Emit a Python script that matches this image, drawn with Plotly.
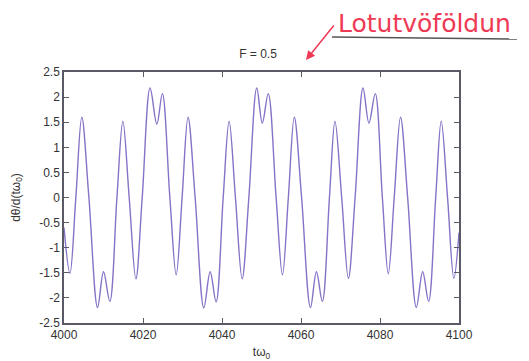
import plotly.graph_objects as go

# Curve: extrema and zero crossings (t*omega0, dtheta/d(t*omega0))
t_vals = [4000.0, 4001.5, 4003.0, 4004.5, 4006.3, 4008.5, 4010.0, 4011.6, 4013.4, 4014.9,
          4016.5, 4018.2, 4019.8, 4021.8, 4023.5, 4024.9, 4026.8, 4028.4, 4029.9, 4031.4,
          4033.2, 4035.4, 4037.0, 4038.5, 4040.3, 4041.8, 4043.4, 4045.1, 4046.8, 4048.8,
          4050.2, 4051.7, 4053.7, 4055.3, 4056.8, 4058.3, 4060.15, 4062.4, 4063.9, 4065.4,
          4067.2, 4068.6, 4070.3, 4072.0, 4073.7, 4075.7, 4077.2, 4078.8, 4080.6, 4082.1,
          4083.6, 4085.2, 4087.0, 4089.2, 4090.8, 4092.3, 4094.1, 4095.5, 4097.1, 4098.7,
          4100.0]
dtheta = [-0.6, -1.51, 0.0, 1.60, 0.0, -2.19, -1.48, -2.07, 0.0, 1.52,
          0.0, -1.62, 0.0, 2.18, 1.46, 2.07, 0.0, -1.54, 0.0, 1.60,
          0.0, -2.20, -1.48, -2.08, 0.0, 1.52, 0.0, -1.62, 0.0, 2.18,
          1.48, 2.07, 0.0, -1.54, 0.0, 1.60, 0.0, -2.19, -1.48, -2.07,
          0.0, 1.52, 0.0, -1.61, 0.0, 2.18, 1.48, 2.07, 0.0, -1.52,
          0.0, 1.60, 0.0, -2.19, -1.48, -2.07, 0.0, 1.52, 0.0, -1.61,
          -0.7]

x_ticks = [4000, 4020, 4040, 4060, 4080, 4100]
y_ticks = [-2.5, -2, -1.5, -1, -0.5, 0, 0.5, 1, 1.5, 2, 2.5]
y_tick_text = ["-2.5", "-2", "-1.5", "-1", "-0.5", "0", "0.5", "1", "1.5", "2", "2.5"]

FONT = "Liberation Sans, Arial, sans-serif"
AXIS_COL = "#5a5a66"
TXT = "#333333"

# page body adds an 8px offset; figure is sized to compensate
W, H = 521, 353
L, R, T, B = 56, 70, 64, 38
PW, PH = W - L - R, H - T - B


def px(x):  # reference page pixel -> paper x
    return (x - 8 - L) / PW


def py(y):  # reference page pixel -> paper y
    return (H - B - (y - 8)) / PH


fig = go.Figure()
fig.add_trace(go.Scatter(
    x=t_vals, y=dtheta, mode="lines",
    line=dict(color="#8672c6", width=1.4, shape="spline", smoothing=1.0),
    showlegend=False, hoverinfo="skip"))

fig.update_layout(
    width=W, height=H,
    margin=dict(l=L, r=R, t=T, b=B, autoexpand=False),
    paper_bgcolor="white", plot_bgcolor="white",
    font=dict(family=FONT, size=12, color=TXT),
    title=dict(text="F = 0.5", x=(258 - 8) / W, xanchor="center", y=1 - (54 - 8) / H,
               yanchor="middle", font=dict(family=FONT, size=12, color=TXT)),
    xaxis=dict(range=[4000, 4100], tickvals=x_ticks, ticks="inside", ticklen=5,
               tickcolor=AXIS_COL, showline=True, linecolor=AXIS_COL, linewidth=1.5,
               mirror="ticks", showgrid=False, zeroline=False, automargin=False,
               tickfont=dict(size=12, color=TXT),
               title=dict(text="tω<sub>0</sub>", standoff=9, font=dict(size=12, color=TXT))),
    yaxis=dict(range=[-2.5, 2.5], tickvals=y_ticks, ticktext=y_tick_text, ticks="inside",
               ticklen=5, tickcolor=AXIS_COL, showline=True, linecolor=AXIS_COL, linewidth=1.5,
               mirror="ticks", showgrid=False, zeroline=False, automargin=False,
               tickfont=dict(size=12, color=TXT),
               title=dict(text="dθ/d(tω<sub>0</sub>)", standoff=16, font=dict(size=12, color=TXT))),
)

# handwritten red annotation with underline and arrow
fig.add_annotation(text="Lotutvöföldun", xref="paper", yref="paper",
                   x=px(424), y=py(24), xanchor="center", yanchor="middle",
                   showarrow=False, borderpad=0,
                   font=dict(family="DejaVu Sans, sans-serif", size=25, color="#ee3a55"))
fig.add_shape(type="line", xref="paper", yref="paper",
              x0=px(332), y0=py(37), x1=px(517), y1=py(39),
              line=dict(color="#555555", width=1.5))
fig.add_annotation(xref="paper", yref="paper", x=px(306), y=py(60),
                   ax=29, ay=-36, axref="pixel", ayref="pixel",
                   text="", showarrow=True, arrowhead=2, arrowsize=1.2, arrowwidth=1.5,
                   arrowcolor="#ee3a55")

fig.write_html("out.html")
